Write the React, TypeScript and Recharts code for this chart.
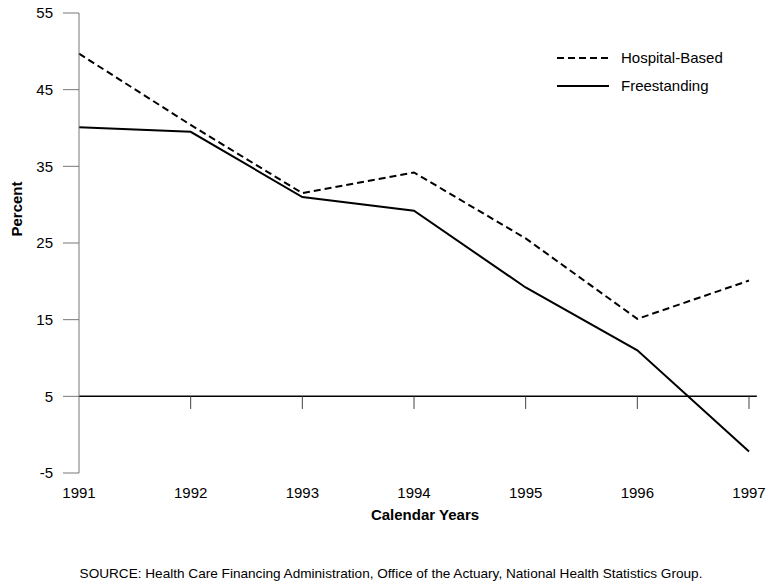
import {
  LineChart,
  Line,
  XAxis,
  YAxis,
  ReferenceLine,
} from "recharts";

const years = [1991, 1992, 1993, 1994, 1995, 1996, 1997];
const hospitalBased = [49.7, 40.4, 31.5, 34.2, 25.6, 15.1, 20.1];
const freestanding = [40.1, 39.5, 31.0, 29.2, 19.2, 11.0, -2.2];
const yTicks = [-5, 5, 15, 25, 35, 45, 55];

const data = years.map((year, i) => ({
  year,
  hospital: hospitalBased[i],
  free: freestanding[i],
}));

const font = "'Liberation Sans', Arial, Helvetica, sans-serif";

export default function App() {
  return (
    <div
      style={{
        position: "absolute",
        left: 0,
        top: 0,
        width: 783,
        height: 582,
        background: "#fff",
        fontFamily: font,
      }}
    >
      <LineChart
        width={783}
        height={582}
        data={data}
        margin={{ top: 13, right: 34, bottom: 79, left: 0 }}
      >
        <XAxis
          dataKey="year"
          type="number"
          domain={[1991, 1997]}
          ticks={years}
          axisLine={false}
          tickLine={false}
          height={30}
          tickMargin={8}
          tick={{ fill: "#000", fontSize: 15, fontFamily: font }}
        />
        <YAxis
          domain={[-5, 55]}
          ticks={yTicks}
          width={79}
          stroke="#777"
          tickSize={16}
          tickMargin={10}
          tick={{ fill: "#000", fontSize: 15, fontFamily: font }}
        />
        {/* horizontal axis drawn at y = 5 */}
        <ReferenceLine
          segment={[
            { x: 1991, y: 5 },
            { x: 1997.07, y: 5 },
          ]}
          stroke="#000"
          strokeWidth={1.5}
          ifOverflow="visible"
        />
        {years.slice(1).map((yr) => (
          <ReferenceLine
            key={yr}
            segment={[
              { x: yr, y: 5 },
              { x: yr, y: 3.35 },
            ]}
            stroke="#444"
            ifOverflow="visible"
          />
        ))}
        <Line
          dataKey="hospital"
          stroke="#000"
          strokeWidth={2}
          strokeDasharray="7 4"
          dot={false}
          isAnimationActive={false}
        />
        <Line
          dataKey="free"
          stroke="#000"
          strokeWidth={2}
          dot={false}
          isAnimationActive={false}
        />
      </LineChart>

      {/* legend */}
      <svg
        style={{ position: "absolute", left: 550, top: 45 }}
        width={200}
        height={55}
      >
        <line x1={7} y1={13} x2={59} y2={13} stroke="#000" strokeWidth={2} strokeDasharray="7 4" />
        <text x={71} y={18} fontSize={15} fontFamily={font} fill="#000">
          Hospital-Based
        </text>
        <line x1={7} y1={41} x2={59} y2={41} stroke="#000" strokeWidth={2} />
        <text x={71} y={46} fontSize={15} fontFamily={font} fill="#000">
          Freestanding
        </text>
      </svg>

      <div
        style={{
          position: "absolute",
          left: 16,
          top: 209,
          transform: "translate(-50%, -50%) rotate(-90deg)",
          fontWeight: "bold",
          fontSize: 15,
          whiteSpace: "nowrap",
        }}
      >
        Percent
      </div>
      <div
        style={{
          position: "absolute",
          left: 425,
          top: 514,
          transform: "translate(-50%, -50%)",
          fontWeight: "bold",
          fontSize: 15,
          whiteSpace: "nowrap",
        }}
      >
        Calendar Years
      </div>
      <div
        style={{
          position: "absolute",
          left: 391,
          top: 573,
          transform: "translate(-50%, -50%)",
          fontSize: 13.6,
          whiteSpace: "nowrap",
        }}
      >
        SOURCE: Health Care Financing Administration, Office of the Actuary, National Health Statistics Group.
      </div>
    </div>
  );
}
